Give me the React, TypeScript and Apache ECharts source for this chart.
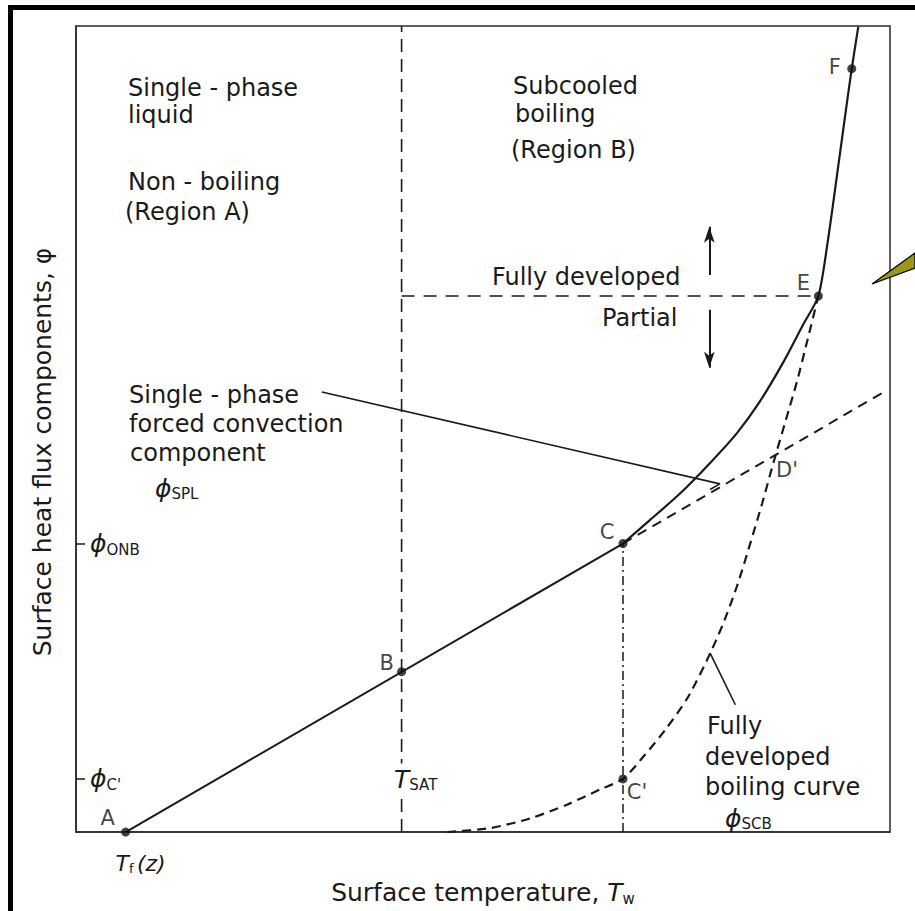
import React, { useEffect, useRef } from 'react';
import * as echarts from 'echarts';

// ---- data (axis units: 0..100 on both axes) ----
const pointNames = ['A', 'B', 'C', "C'", 'E', 'F'];
const pointX = [6.1, 40.0, 67.2, 67.2, 91.2, 95.3];
const pointY = [0, 19.9, 35.8, 6.6, 66.5, 94.7];

// single-phase forced convection line (A -> C solid, C -> end dashed)
const splX = [6.1, 67.2, 99.6];
const splY = [0, 35.8, 54.8];

// subcooled boiling curve (solid, C -> E -> F -> top)
const boilX = [67.2, 70.5, 74.2, 77.9, 81.2, 84.0, 86.9, 89.3, 91.2, 92.4, 93.6, 94.6, 95.3, 96.1];
const boilY = [35.8, 38.7, 42.0, 45.8, 49.5, 53.4, 58.3, 62.9, 66.5, 73.6, 82.3, 89.7, 94.7, 99.9];

// fully developed boiling curve (dashed)
const scbX = [45.6, 50.9, 55.8, 60.3, 64.4, 67.2, 69.9, 72.4, 75.1, 77.5, 79.4, 81.2, 82.8, 84.3, 85.7, 87.2, 88.6, 89.9, 91.2];
const scbY = [0, 0.5, 1.7, 3.4, 5.3, 6.6, 9.6, 12.7, 16.6, 21.3, 25.6, 30.5, 35.7, 40.8, 45.9, 51.1, 56.0, 61.2, 66.5];

const TSAT = 40.0;
const TF = 6.1;
const PHI_ONB = 35.8;
const PHI_C = 6.6;
const D_PRIME = [86.0, 46.8];

const arrowX = 77.8;
const upArrow = [69.1, 75.1];
const downArrow = [64.8, 57.6];

const leaderSPLX = [30.2, 79.1, 77.9];
const leaderSPLY = [54.6, 43.2, 42.5];
const leaderSCBX = [77.9, 81.0];
const leaderSCBY = [22.2, 15.8];

// ---- styles ----
const ink = '#1a1a1a';
const FONT = 'DejaVu Sans';
const FS = 24;

const labelOffsets: Record<string, [number, number]> = {
  A: [-18, -14],
  B: [-15, -9],
  C: [-16, -12],
  "C'": [14, 13],
  E: [-15, -13],
  F: [-17, -2],
};

const pairs = (xs: number[], ys: number[]) => xs.map((x, i) => [x, ys[i]]);

const plainTexts: { t: string; x: number; y: number }[] = [
  { t: 'Single - phase', x: 128, y: 88 },
  { t: 'liquid', x: 128, y: 115 },
  { t: 'Non - boiling', x: 128, y: 182 },
  { t: '(Region A)', x: 125, y: 212 },
  { t: 'Subcooled', x: 513, y: 86 },
  { t: 'boiling', x: 515, y: 114 },
  { t: '(Region B)', x: 511, y: 150 },
  { t: 'Fully developed', x: 492, y: 277 },
  { t: 'Partial', x: 602, y: 318 },
  { t: 'Single - phase', x: 129, y: 395 },
  { t: 'forced convection', x: 129, y: 424 },
  { t: 'component', x: 130, y: 453 },
  { t: 'Fully', x: 707, y: 726 },
  { t: 'developed', x: 705, y: 757 },
  { t: 'boiling curve', x: 705, y: 787 },
];

const subRich = {
  p: { fontSize: FS + 1, fontFamily: FONT, fontStyle: 'italic', color: ink, fill: ink },
  s: { fontSize: 15, fontFamily: FONT, color: ink, fill: ink, padding: [12, 0, 0, 0] },
};

export default function App() {
  const ref = useRef<HTMLDivElement>(null);
  useEffect(() => {
    const chart = echarts.init(ref.current!, undefined, { renderer: 'svg' });

    const graphic: any[] = [
      { type: 'rect', z: 100, shape: { x: 8, y: 5, width: 907, height: 5 }, style: { fill: '#000' } },
      { type: 'rect', z: 100, shape: { x: 8, y: 5, width: 5, height: 906 }, style: { fill: '#000' } },
      {
        type: 'polygon', z: 100,
        shape: { points: [[872, 284], [915, 253], [915, 268]] },
        style: { fill: '#9c9616', stroke: '#000', lineWidth: 1.2 },
      },
      ...plainTexts.map((d) => ({
        type: 'text', z: 100, x: d.x, y: d.y,
        style: { text: d.t, fontSize: FS, lineHeight: FS, fontFamily: FONT, fill: ink, align: 'left', verticalAlign: 'middle' },
      })),
      {
        type: 'text', z: 100, x: 155, y: 488,
        style: { text: '{p|ϕ}{s|SPL}', rich: subRich, fill: ink, align: 'left', verticalAlign: 'middle' },
      },
      {
        type: 'text', z: 100, x: 725, y: 818,
        style: { text: '{p|ϕ}{s|SCB}', rich: subRich, fill: ink, align: 'left', verticalAlign: 'middle' },
      },
      {
        type: 'text', z: 100, x: 392, y: 779,
        style: {
          text: '{p|T}{s|SAT}', rich: subRich, fill: ink, align: 'left', verticalAlign: 'middle',
          backgroundColor: '#fff', padding: [2, 2, 2, 2],
        },
      },
      {
        type: 'text', z: 100, x: 42, y: 452, rotation: Math.PI / 2,
        style: {
          text: 'Surface heat flux components, φ', fontSize: FS + 1, fontFamily: FONT, fill: ink,
          align: 'center', verticalAlign: 'middle',
        },
      },
    ];

    const thin = { color: ink, width: 2 };

    const option: any = {
      animation: false,
      backgroundColor: '#fff',
      grid: { left: 76, top: 26, width: 814, height: 812, show: true, borderColor: '#2a2a2a', borderWidth: 1.5 },
      xAxis: {
        type: 'value', min: 0, max: 100,
        name: 'Surface temperature, {p|T}{s|w}',
        nameLocation: 'middle', nameGap: 21,
        nameTextStyle: { fontSize: FS + 1, fontFamily: FONT, color: ink, rich: subRich },
        axisLine: { show: true, lineStyle: { color: '#2a2a2a', width: 1.5 } },
        axisTick: { show: false },
        splitLine: { show: false },
        axisLabel: {
          customValues: [TF],
          margin: 20,
          formatter: () => '{p|T}{s|f} {p|(z)}',
          padding: [0, 0, 0, 30],
          rich: {
            p: { fontSize: 22, fontFamily: FONT, fontStyle: 'italic', color: ink },
            s: { fontSize: 13, fontFamily: FONT, color: ink, padding: [10, 0, 0, 0] },
          },
        },
      },
      yAxis: {
        type: 'value', min: 0, max: 100,
        axisLine: { show: true, lineStyle: { color: '#2a2a2a', width: 1.5 } },
        axisTick: { show: true, customValues: [PHI_C, PHI_ONB], inside: true, length: 9, lineStyle: { color: ink, width: 1.5 } },
        splitLine: { show: false },
        axisLabel: {
          customValues: [PHI_C, PHI_ONB],
          inside: true,
          margin: 14,
          formatter: (v: number) => (Math.abs(v - PHI_ONB) < 0.5 ? '{p|ϕ}{s|ONB}' : "{p|ϕ}{s|C'}"),
          rich: subRich,
        },
      },
      graphic,
      series: [
        { type: 'line', data: pairs(splX.slice(0, 2), splY.slice(0, 2)), symbol: 'none', lineStyle: thin, silent: true },
        { type: 'line', data: pairs(splX.slice(1), splY.slice(1)), symbol: 'none', lineStyle: { ...thin, type: [10, 7] }, silent: true },
        {
          type: 'line', data: pairs(boilX, boilY), symbol: 'none', smooth: 0.25,
          lineStyle: { ...thin, width: 2.2 }, silent: true,
        },
        {
          type: 'line', data: pairs(scbX, scbY), symbol: 'none', smooth: 0.25,
          lineStyle: { ...thin, width: 2.2, type: [9, 6] }, silent: true,
        },
        { type: 'line', data: [[TSAT, 0], [TSAT, 100]], symbol: 'none', lineStyle: { color: ink, width: 1.6, type: [13, 7] }, silent: true },
        {
          type: 'line', data: [[TSAT, pointY[4]], [pointX[4], pointY[4]]], symbol: 'none',
          lineStyle: { color: ink, width: 1.6, type: [13, 9] }, silent: true,
          markLine: {
            silent: true, symbol: ['none', 'arrow'], symbolSize: [8, 16],
            lineStyle: { color: ink, width: 2, type: 'solid' }, label: { show: false },
            data: [
              [{ coord: [arrowX, upArrow[0]] }, { coord: [arrowX, upArrow[1]] }],
              [{ coord: [arrowX, downArrow[0]] }, { coord: [arrowX, downArrow[1]] }],
            ],
          },
        },
        { type: 'line', data: [[pointX[2], 0], [pointX[2], pointY[2]]], symbol: 'none', lineStyle: { color: ink, width: 1.5, type: [9, 4, 2, 4] }, silent: true },
        { type: 'line', data: pairs(leaderSPLX, leaderSPLY), symbol: 'none', lineStyle: { color: ink, width: 1.6 }, silent: true },
        { type: 'line', data: pairs(leaderSCBX, leaderSCBY), symbol: 'none', lineStyle: { color: ink, width: 1.6 }, silent: true },
        {
          type: 'scatter', z: 5, symbolSize: 9, itemStyle: { color: '#111' }, silent: true,
          label: { show: true, position: 'inside', formatter: '{b}', fontSize: 21, fontFamily: FONT, color: '#111' },
          data: pointNames.map((n, i) => ({ name: n, value: [pointX[i], pointY[i]], label: { offset: labelOffsets[n] } })),
        },
        {
          type: 'scatter', z: 5, symbolSize: 0, silent: true,
          label: { show: true, position: 'inside', formatter: '{b}', fontSize: 21, fontFamily: FONT, color: '#111', offset: [11, 15] },
          data: [{ name: "D'", value: D_PRIME }],
        },
      ],
    };
    chart.setOption(option);
    return () => chart.dispose();
  }, []);
  return <div ref={ref} style={{ position: 'fixed', left: 0, top: 0, width: 915, height: 911, background: '#fff' }} />;
}
